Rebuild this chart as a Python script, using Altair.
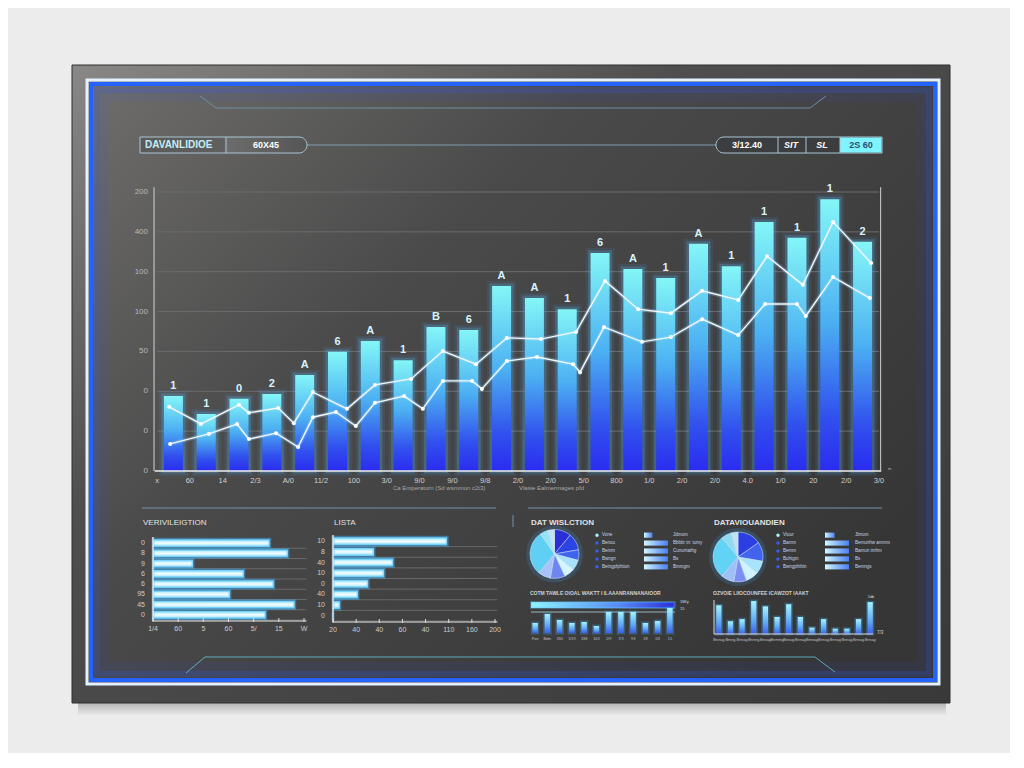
import altair as alt
import pandas as pd

FONT = "Liberation Sans"
OX, OY = 72, 65          # page position of the dark panel (= view origin)
W, H = 878, 638          # panel size

# ---------------- data ----------------
BAR_LABELS = ["1", "1", "0", "2", "A", "6", "A", "1", "B", "6", "A",
              "A", "1", "6", "A", "1", "A", "1", "1", "1", "1", "2"]
BAR_VALUES = [188, 143, 181, 193, 241, 299, 326, 278, 361, 354, 464,
              434, 406, 547, 507, 484, 570, 514, 625, 585, 682, 575]
UPPER_X = [0.37, 1.34, 2.50, 2.80, 3.69, 4.17, 4.75, 5.79, 6.64, 7.74, 8.71, 9.72,
           10.66, 11.70, 12.77, 13.65, 14.66, 15.66, 16.61, 17.71, 18.59, 19.68, 20.60, 21.76]
UPPER_Y = [161, 118, 166, 146, 158, 120, 198, 156, 216, 231, 301, 268,
           334, 331, 349, 477, 406, 396, 452, 429, 539, 467, 625, 522]
LOWER_X = [0.40, 1.58, 2.44, 2.80, 3.63, 4.30, 4.75, 5.45, 6.06, 6.64, 7.53, 8.10, 8.71, 9.60,
           9.90, 10.66, 11.58, 12.68, 12.89, 13.62, 14.78, 15.66, 16.61, 17.71, 18.53, 19.50,
           19.77, 20.60, 21.72]
LOWER_Y = [68, 93, 118, 80, 95, 60, 135, 148, 113, 171, 188, 156, 226, 226,
           206, 276, 286, 268, 248, 361, 324, 336, 381, 341, 419, 419,
           389, 487, 434]
X_TICK_LABELS = ["x", "60", "14", "2/3", "A/0", "11/2", "100", "3/0", "9/0", "9/0", "9/8", "2/0",
                 "2/0", "5/0", "800", "1/0", "2/0", "2/0", "4.0", "1/0", "20", "2/0", "3/0"]
Y_TICK_VALUES = [0, 100, 200, 300, 400, 500, 600, 700]
Y_TICK_LABELS = ["0", "0", "0", "50", "100", "100", "400", "200"]

P1_ROWS = ["0", "8", "9", "6", "6", "95", "45", "0"]
P1_VALUES = [4.64, 5.36, 1.59, 3.61, 4.80, 3.06, 5.63, 4.48]
P1_TICKS = ["1/4", "60", "5", "60", "5/", "15", "W"]

P2_ROWS = ["10", "8", "40", "10", "0", "40", "10", "0"]
P2_VALUES = [4.93, 1.77, 2.60, 2.21, 1.52, 1.08, 0.30, 0.0]
P2_TICKS = ["20", "40", "40", "60", "40", "110", "160", "200"]

P3_SLICES = [40, 40, 25, 25, 25, 35, 30, 105, 20, 15]
P3_LEG_LEFT = ["Vone", "Benou", "Bemm", "Bwngn", "Beingpfphtion"]
P3_LEG_RIGHT = ["Jdmom", "Bbbbr tn: tumy", "Cununtathg", "Bs", "Bmmgm"]
P3_LEG_BARS = [0.35, 1, 1, 1, 1]
P3_TOTAL = [97]
P3_MINI = [10, 19, 13, 10, 11, 7, 21, 21, 21, 10, 12, 25]
P3_MINI_LABELS = ["Poe", "Bdm", "330", "1/19", "338", "103", "2/9", "7/3", "93", "28", "03", "15"]

P4_SLICES = [55, 45, 30, 30, 30, 30, 100, 25, 15]
P4_LEG_LEFT = ["Vtour", "Bamm", "Bemm", "Bohtgm", "Bwngphthin"]
P4_LEG_RIGHT = ["Jbnom", "Bemunhw ammm", "Bamun tmhm", "Bs", "Bemngs"]
P4_LEG_BARS = [0.4, 1, 1, 1, 1]
P4_MINI = [27, 12, 14, 31, 26, 16, 28, 16, 6, 14, 5, 5, 14, 30]
P4_MINI_LABELS = ["Bnnag", "Bmng", "Bnnag", "Bnnng", "Bnnag", "Bnmmg", "Bnnag",
                  "Bnnag", "Bmnag", "Bnnag", "Bnnag", "Bnnag", "Bnnag", "Bnnag"]

# ---------------- styles ----------------
P3_COLORS = ["#2a30d6", "#2c44e4", "#3f63ec", "#a6e2f8", "#d4f6ff", "#6f86f2",
             "#a9c2fa", "#5fd0f4", "#94e4f7", "#c3e3ee"]
P4_COLORS = ["#2a3ee2", "#4263ee", "#a5e4fa", "#cff3ff", "#7b8ff3", "#a0bff8",
             "#62d3f4", "#8fdcf2", "#bfe2ee"]


def grad(stops, x1=0, y1=0, x2=0, y2=1):
    return alt.LinearGradient(
        gradient="linear",
        stops=[alt.GradientStop(offset=o, color=c) for o, c in stops],
        x1=x1, y1=y1, x2=x2, y2=y2)


def P(px, py):
    return px - OX, py - OY


ONE = pd.DataFrame({"k": [0]})


def rect(p1, p2, **kw):
    (x, y), (x2, y2) = P(*p1), P(*p2)
    return alt.Chart(ONE).mark_rect(**kw).encode(
        x=alt.value(x), y=alt.value(y), x2=alt.value(x2), y2=alt.value(y2))


def seg(p1, p2, color, width=1.0, opacity=1.0):
    (x, y), (x2, y2) = P(*p1), P(*p2)
    return alt.Chart(ONE).mark_rule(color=color, strokeWidth=width, opacity=opacity).encode(
        x=alt.value(x), y=alt.value(y), x2=alt.value(x2), y2=alt.value(y2))


def txt(p, text, size, color, align="left", weight="normal", style="normal"):
    x, y = P(*p)
    return alt.Chart(ONE).mark_text(
        text=text, fontSize=size, color=color, align=align, baseline="middle",
        fontWeight=weight, fontStyle=style, font=FONT).encode(x=alt.value(x), y=alt.value(y))


def qdatum(v, scale):
    return dict(datum=v, scale=scale, axis=None, type="quantitative")


layers = []

# ---------------- frame decoration ----------------
layers.append(rect((78, 700), (946, 716), fill=grad([(0, "#8c8c8c"), (1, "#ececec")]), opacity=0.7))
layers.append(rect((72, 65), (950, 703),
                   fill=grad([(0, "#8a8886"), (0.35, "#4e4e4e"), (1, "#393939")], x1=0, y1=0, x2=1, y2=1),
                   stroke="#2e2e2e", strokeWidth=1))
layers.append(rect((93, 86), (933, 678),
                   fill=grad([(0, "#6e6d6b"), (0.4, "#4a4a4a"), (1, "#363636")], x1=0, y1=0, x2=1, y2=0.7)))
layers.append(rect((103, 96), (923, 668), fill="transparent", stroke="#2f5cff", strokeWidth=12, strokeOpacity=0.07))
layers.append(rect((97, 90), (929, 674), fill="transparent", stroke="#2f5cff", strokeWidth=6, strokeOpacity=0.2))
layers.append(rect((87, 80), (939, 684), fill="transparent", stroke="#e4f2ff", strokeWidth=3))
layers.append(rect((91, 84), (935, 680), fill="transparent", stroke="#2563ff", strokeWidth=4))

# decorative lines
LINE_C = "#6f8ea3"
layers += [
    seg((200, 96), (216, 108), LINE_C), seg((216, 108), (810, 108), LINE_C), seg((810, 108), (826, 96), LINE_C),
    seg((186, 673), (205, 657), "#6cc6e0", 1, 0.8), seg((205, 657), (815, 657), "#6cc6e0", 1, 0.8),
    seg((815, 657), (835, 672), "#6cc6e0", 1, 0.8),
    seg((142, 508), (496, 508), "#7594a8"), seg((528, 508), (882, 508), "#7594a8"),
    seg((513, 515), (513, 527), "#7594a8"),
    seg((307, 145), (716, 145), "#7e9db0"),
]

# ---------------- header ----------------
layers.append(rect((140, 137), (307, 153), fill=grad([(0, "#5a5a5a"), (0.5, "#5f5f5f"), (0.52, "#6c6c6c"), (1, "#555555")], x2=1, y2=0),
                   stroke="#a9c6d3", strokeWidth=1, cornerRadiusTopRight=8, cornerRadiusBottomRight=8))
layers.append(seg((226, 137), (226, 153), "#a9c6d3"))
layers.append(txt((145, 145), "DAVANLIDIOE", 10, "#c5eef6", weight="bold"))
layers.append(txt((266, 145), "60X45", 9, "#ffffff", align="center", weight="bold"))
layers.append(rect((716, 137), (882, 153), fill="#3b3d3f", stroke="#a9c6d3", strokeWidth=1,
                   cornerRadiusTopLeft=8, cornerRadiusBottomLeft=8))
layers.append(rect((840, 137.5), (881.5, 152.5), fill="#7ff3ff"))
layers += [seg((778, 137), (778, 153), "#a9c6d3"), seg((806, 137), (806, 153), "#a9c6d3"),
           seg((840, 137), (840, 153), "#a9c6d3")]
layers.append(txt((747, 145), "3/12.40", 9, "#ffffff", align="center", weight="bold"))
layers.append(txt((791, 145), "SIT", 9, "#ffffff", align="center", weight="bold", style="italic"))
layers.append(txt((822, 145), "SL", 9, "#ffffff", align="center", weight="bold", style="italic"))
layers.append(txt((861, 145), "2S 60", 9, "#2a5068", align="center", weight="bold"))

# ---------------- main chart ----------------
xm = alt.Scale(domain=[0, 22], range=[157 - OX, 879 - OX], nice=False, zero=False, padding=0)
ym = alt.Scale(domain=[0, 700], range=[471 - OY, 192 - OY], nice=False, zero=True, padding=0)

bars_df = pd.DataFrame({"pos": [i + 0.5 for i in range(len(BAR_VALUES))],
                        "value": BAR_VALUES, "label": BAR_LABELS})
upper_df = pd.DataFrame({"x": UPPER_X, "y": UPPER_Y})
lower_df = pd.DataFrame({"x": LOWER_X, "y": LOWER_Y})
ytick_df = pd.DataFrame({"t": Y_TICK_VALUES, "lab": Y_TICK_LABELS})
xtick_df = pd.DataFrame({"t": list(range(len(X_TICK_LABELS))), "lab": X_TICK_LABELS})

bx = alt.X("pos:Q", scale=xm, axis=None)
by = alt.Y("value:Q", scale=ym, axis=None)
BAR_GRAD = grad([(0, "#84f6f7"), (0.45, "#4cb0f2"), (0.8, "#3150ee"), (1, "#2a2cf0")])

main_layers = [
    # grid
    alt.Chart(ytick_df[ytick_df.t > 0]).mark_rule(color="#6c6c6c", strokeWidth=1).encode(
        y=alt.Y("t:Q", scale=ym, axis=None),
        x=alt.XDatum(**qdatum(0, xm)), x2=alt.datum(22)),
    # bar glow + bars
    alt.Chart(bars_df).mark_bar(size=19, fillOpacity=0, stroke="#4aa8ff",
                                strokeWidth=10, strokeOpacity=0.1).encode(x=bx, y=by),
    alt.Chart(bars_df).mark_bar(size=19, fillOpacity=0, stroke="#5cc4ff",
                                strokeWidth=5, strokeOpacity=0.22).encode(x=bx, y=by),
    alt.Chart(bars_df).mark_bar(size=19, fill=BAR_GRAD).encode(x=bx, y=by),
    alt.Chart(bars_df).mark_text(dy=-10, fontSize=11, fontWeight="bold", color="#d6f4ff", font=FONT).encode(
        x=bx, y=by, text="label:N"),
]
for df in (lower_df, upper_df):
    lx = alt.X("x:Q", scale=xm, axis=None)
    ly = alt.Y("y:Q", scale=ym, axis=None)
    main_layers.append(alt.Chart(df).mark_line(color="#a8dcff", strokeWidth=4, opacity=0.25).encode(x=lx, y=ly))
    main_layers.append(alt.Chart(df).mark_line(color="#f2f9ff", strokeWidth=1.4).encode(x=lx, y=ly))
    main_layers.append(alt.Chart(df).mark_circle(size=16, color="#ffffff", opacity=1).encode(x=lx, y=ly))
# axes drawn from the tick arrays
main_layers += [
    alt.Chart(ONE).mark_rule(color="#eeeeee", strokeWidth=1.5).encode(
        x=alt.XDatum(**qdatum(-0.07, xm)), x2=alt.datum(22.07), y=alt.YDatum(**qdatum(0, ym))),
    alt.Chart(ONE).mark_rule(color="#d4d4d4", strokeWidth=1).encode(
        x=alt.XDatum(**qdatum(-0.09, xm)), y=alt.YDatum(**qdatum(0, ym)), y2=alt.datum(712)),
    alt.Chart(ONE).mark_rule(color="#d0d0d0", strokeWidth=1).encode(
        x=alt.XDatum(**qdatum(22.05, xm)), y=alt.YDatum(**qdatum(0, ym)), y2=alt.datum(712)),
    alt.Chart(xtick_df).mark_text(baseline="top", dy=6, fontSize=7.5, color="#cfcfcf", font=FONT).encode(
        x=alt.X("t:Q", scale=xm, axis=None), y=alt.YDatum(**qdatum(0, ym)), text="lab:N"),
    alt.Chart(ytick_df).mark_text(align="right", dx=-9, fontSize=8, color="#b9b9b9", font=FONT).encode(
        x=alt.XDatum(**qdatum(0, xm)), y=alt.Y("t:Q", scale=ym, axis=None), text="lab:N"),
]
layers.append(alt.layer(*main_layers))
layers.append(txt((393, 488), "Ca Emperaturn (Sd wsmmun c2t3)", 6, "#a8a8a8"))
layers.append(txt((519, 488), "Vlasie Ealmermages pfd", 6, "#a8a8a8"))
layers.append(txt((888, 469), "m", 4, "#bbbbbb"))


# ---------------- bottom-left horizontal bar panels ----------------
def hbar_panel(rows, values, ticks, x_rng, y_rng):
    n = len(rows)
    tmax = len(ticks) - 1
    df = pd.DataFrame({"row": list(range(n)), "v": values, "lab": rows})
    tdf = pd.DataFrame({"t": list(range(len(ticks))), "lab": ticks})
    xs = alt.Scale(domain=[0, tmax], range=[x_rng[0] - OX, x_rng[1] - OX], nice=False, zero=True, padding=0)
    ys = alt.Scale(domain=list(range(n)), range=[y_rng[0] - OY, y_rng[1] - OY],
                   paddingInner=0.25, paddingOuter=0.125)
    axis_y = y_rng[1] + 1 - OY
    step = (y_rng[1] - y_rng[0]) / n
    yr = alt.Y("row:O", scale=ys, axis=None)
    grid_rules = alt.Chart(df).mark_rule(color="#696969", strokeWidth=1, yOffset=step / 2).encode(
        y=yr, x=alt.XDatum(**qdatum(0, xs)), x2=alt.datum(tmax + 0.1))
    bars = alt.Chart(df).mark_bar(
        fill=grad([(0, "#98e6f8"), (0.5, "#f2fdff"), (1, "#8ddff5")]),
        stroke="#3fb6ff", strokeWidth=3, strokeOpacity=0.45).encode(
        x=alt.X("v:Q", scale=xs, axis=None), y=yr)
    row_labels = alt.Chart(df).mark_text(align="right", dx=-8, fontSize=7, color="#cccccc", font=FONT).encode(
        x=alt.XDatum(**qdatum(0, xs)), y=yr, text="lab:N")
    x_dom = alt.Chart(ONE).mark_rule(color="#e6e6e6", strokeWidth=1).encode(
        x=alt.XDatum(**qdatum(0, xs)), x2=alt.datum(tmax + 0.1), y=alt.value(axis_y))
    y_dom = alt.Chart(ONE).mark_rule(color="#e6e6e6", strokeWidth=1.5).encode(
        x=alt.XDatum(**qdatum(0, xs)), y=alt.value(y_rng[0] - 1 - OY), y2=alt.value(axis_y))
    ticks_m = alt.Chart(tdf).mark_rule(color="#dddddd", strokeWidth=1).encode(
        x=alt.X("t:Q", scale=xs, axis=None), y=alt.value(axis_y - 3), y2=alt.value(axis_y + 1))
    tick_labels = alt.Chart(tdf).mark_text(baseline="top", fontSize=7, color="#cccccc", font=FONT).encode(
        x=alt.X("t:Q", scale=xs, axis=None), y=alt.value(axis_y + 4), text="lab:N")
    return alt.layer(grid_rules, bars, row_labels, x_dom, y_dom, ticks_m, tick_labels)


layers.append(hbar_panel(P1_ROWS, P1_VALUES, P1_TICKS, (153, 304), (538, 620)))
layers.append(hbar_panel(P2_ROWS, P2_VALUES, P2_TICKS, (333, 495), (536, 621)))
layers.append(txt((143, 523), "VERIVILEIGTION", 8, "#e2e2e2"))
layers.append(txt((334, 523), "LISTA", 8, "#e2e2e2"))
layers.append(txt((531, 523), "DAT WISLCTION", 8, "#e2e2e2", weight="bold"))
layers.append(txt((714, 523), "DATAVIOUANDIEN", 8, "#e2e2e2", weight="bold"))


# ---------------- pies ----------------
def pie(slices, colors, center, r):
    cx, cy = P(*center)
    df = pd.DataFrame({"k": list(range(len(slices))), "v": slices})
    glow = alt.Chart(ONE).mark_arc(radius=r + 4, theta=0, theta2=6.2832, color="#3aa8ff", opacity=0.18).encode(
        x=alt.value(cx), y=alt.value(cy))
    arcs = alt.Chart(df).mark_arc(radius=r, stroke="#d8ecff", strokeWidth=0.5).encode(
        theta=alt.Theta("v:Q", stack=True),
        color=alt.Color("k:N", scale=alt.Scale(domain=list(range(len(slices))), range=colors), legend=None),
        order=alt.Order("k:Q"),
        x=alt.value(cx), y=alt.value(cy))
    return alt.layer(glow, arcs)


layers.append(pie(P3_SLICES, P3_COLORS, (554.5, 554), 24.5))
layers.append(pie(P4_SLICES, P4_COLORS, (738, 557), 25))


def legend_block(left, right, lens, y_rng, dot_x, text_x, bar_rng, rtext_x):
    df = pd.DataFrame({"row": list(range(len(left))), "left": left, "right": right, "len": lens})
    ys = alt.Scale(domain=list(range(len(left))), range=[y_rng[0] - OY, y_rng[1] - OY],
                   paddingInner=0.35, paddingOuter=0.2)
    y = alt.Y("row:O", scale=ys, axis=None)
    dots = alt.Chart(df).mark_circle(size=12, opacity=1).encode(
        x=alt.value(dot_x - OX), y=y,
        color=alt.condition("datum.row == 0", alt.value("#a8f4ff"), alt.value("#3a5ce8")))
    ltxt = alt.Chart(df).mark_text(align="left", fontSize=4.5, color="#c8d6e4", font=FONT).encode(
        x=alt.value(text_x - OX), y=y, text="left:N")
    bars = alt.Chart(df).mark_bar(fill=grad([(0, "#d2f8ff"), (1, "#4a7ff0")], x2=1, y2=0)).encode(
        x=alt.X("len:Q", scale=alt.Scale(domain=[0, 1], range=[bar_rng[0] - OX, bar_rng[1] - OX],
                                         nice=False, zero=True, padding=0), axis=None), y=y)
    rtxt = alt.Chart(df).mark_text(align="left", fontSize=4.5, color="#c8d6e4", font=FONT).encode(
        x=alt.value(rtext_x - OX), y=y, text="right:N")
    return alt.layer(dots, ltxt, bars, rtxt)


layers.append(legend_block(P3_LEG_LEFT, P3_LEG_RIGHT, P3_LEG_BARS, (531, 571), 597, 602, (644, 668), 673))
layers.append(legend_block(P4_LEG_LEFT, P4_LEG_RIGHT, P4_LEG_BARS, (531, 571), 778, 783, (825, 849), 855))
layers.append(txt((530, 593), "COTM TAWLE OIOAL WAKTT I ILAAANRANNANAIOOR", 5, "#d0d0d0", weight="bold"))
layers.append(txt((713, 593), "OZVOIE LIIOCOUNFEE ICAWZOT IAAKT", 5, "#d0d0d0", weight="bold"))

# progress bar of panel 3
tot_df = pd.DataFrame({"c": ["a"], "v": P3_TOTAL})
layers.append(alt.Chart(tot_df).mark_bar(
    fill=grad([(0, "#8ff4ff"), (0.6, "#5a8df5"), (1, "#2b2fd8")], x2=1, y2=0),
    stroke="#5fc8ff", strokeWidth=2, strokeOpacity=0.35).encode(
    x=alt.X("v:Q", scale=alt.Scale(domain=[0, 100], range=[531 - OX, 679 - OX], nice=False, zero=True, padding=0), axis=None),
    y=alt.Y("c:N", scale=alt.Scale(domain=["a"], range=[602 - OY, 608 - OY], paddingInner=0, paddingOuter=0), axis=None)))
layers.append(seg((531, 612), (675, 612), "#c8e8f5", 1, 0.7))
layers.append(txt((680, 602), "1M/y", 4, "#dddddd"))
layers.append(txt((680, 609), "15", 4, "#dddddd"))


def mini_bars(values, labels, x_rng, y_rng, ymax, with_axes):
    n = len(values)
    df = pd.DataFrame({"i": list(range(n)), "v": values, "lab": labels})
    xs = alt.Scale(domain=list(range(n)), range=[x_rng[0] - OX, x_rng[1] - OX], paddingInner=0.55, paddingOuter=0.275)
    ys = alt.Scale(domain=[0, ymax], range=[y_rng[0] - OY, y_rng[1] - OY], nice=False, zero=True, padding=0)
    xi = alt.X("i:O", scale=xs, axis=None)
    yv = alt.Y("v:Q", scale=ys, axis=None)
    parts = [
        alt.Chart(df).mark_bar(fillOpacity=0, stroke="#3fb4ff", strokeWidth=3, strokeOpacity=0.3).encode(x=xi, y=yv),
        alt.Chart(df).mark_bar(fill=grad([(0, "#a6f3ff"), (0.6, "#5fa8f4"), (1, "#3a5ef0")])).encode(x=xi, y=yv),
        alt.Chart(df).mark_text(baseline="top", fontSize=3.8, color="#c0c0c0", font=FONT).encode(
            x=xi, y=alt.value(y_rng[0] + 4 - OY), text="lab:N"),
    ]
    if with_axes:
        parts += [
            alt.Chart(ONE).mark_rule(color="#dddddd", strokeWidth=1).encode(
                x=alt.value(x_rng[0] + 1 - OX), x2=alt.value(x_rng[1] - 3 - OX), y=alt.YDatum(**qdatum(0, ys))),
            alt.Chart(ONE).mark_rule(color="#dddddd", strokeWidth=1).encode(
                x=alt.value(x_rng[0] + 1 - OX), y=alt.YDatum(**qdatum(0, ys)), y2=alt.datum(ymax)),
        ]
    return alt.layer(*parts)


layers.append(mini_bars(P3_MINI, P3_MINI_LABELS, (529, 676), (633, 603), 30, False))
layers.append(mini_bars(P4_MINI, P4_MINI_LABELS, (713, 876), (634, 600), 32, True))
layers.append(txt((877, 633), "7/3", 4.5, "#dddddd"))
layers.append(txt((871, 597), "1db", 4, "#dddddd", align="center"))

chart = alt.layer(*layers).properties(
    width=W, height=H,
    autosize=alt.AutoSizeParams(type="none"),
    padding={"left": OX - 8, "top": OY - 8, "right": 60, "bottom": 50},
    background="#ececec",
).resolve_scale(
    x="independent", y="independent", theta="independent", color="independent"
).configure_view(stroke="transparent")

chart.save("out.html", embed_options={"renderer": "svg", "actions": False})
